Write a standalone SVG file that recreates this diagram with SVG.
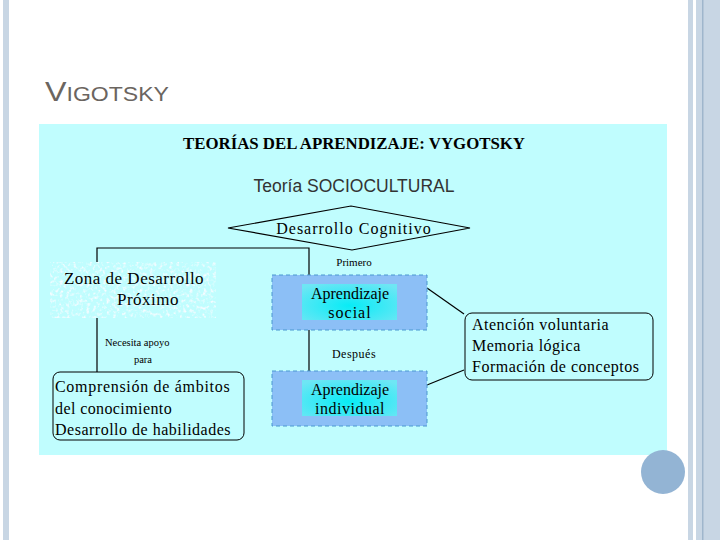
<svg xmlns="http://www.w3.org/2000/svg" width="720" height="540" viewBox="0 0 720 540">
<defs>
<style>
.serif{font-family:"Liberation Serif","Times New Roman",serif;fill:#000}
.ln{stroke:#000;stroke-width:1.2;fill:none}
.outer{fill:#8cbff6;stroke:#4a98d0;stroke-width:1;stroke-dasharray:4 3}
.inner{fill:url(#cy)}
.rbox{fill:none;stroke:#000;stroke-width:1}
</style>
<radialGradient id="cy" cx="0.5" cy="0.6" r="0.7">
<stop offset="0" stop-color="#08ecf6"/>
<stop offset="1" stop-color="#6ee6f4"/>
</radialGradient>
<filter id="noise" x="0" y="0" width="1" height="1">
<feTurbulence type="fractalNoise" baseFrequency="0.3" numOctaves="2" seed="3" result="n"/>
<feColorMatrix in="n" type="matrix" values="0 0 0 0 0.95  0 0 0 0 0.97  0 0 0 0 1  0 0 0 -3 1.55" result="w"/>
<feComposite in="w" in2="SourceGraphic" operator="in"/>
</filter>
</defs>
<rect width="720" height="540" fill="#fff"/>
<rect x="3" y="0" width="6" height="540" fill="#c8d6e4"/>
<rect x="688" y="0" width="5" height="540" fill="#c8d6e4"/>
<rect x="696" y="0" width="24" height="540" fill="#c8d6e4"/>
<rect x="702" y="0" width="1.5" height="540" fill="#9fb6cc"/>
<text x="45" y="101" font-family="Liberation Sans,Arial,sans-serif" fill="#6b6560" textLength="124" lengthAdjust="spacingAndGlyphs"><tspan font-size="28">V</tspan><tspan font-size="20">IGOTSKY</tspan></text>
<rect x="39" y="124" width="628" height="331" fill="#c0fdfe"/>
<circle cx="663" cy="472" r="22" fill="#93b4d4"/>
<g id="header">
<text x="354" y="149" text-anchor="middle" class="serif" font-weight="bold" font-size="16" textLength="342" lengthAdjust="spacingAndGlyphs">TEORÍAS DEL APRENDIZAJE: VYGOTSKY</text>
<text x="354" y="192" text-anchor="middle" font-family="Liberation Sans,Arial,sans-serif" font-size="17.5" fill="#333">Teoría SOCIOCULTURAL</text>
</g>
<g id="connectors">
<polyline class="ln" points="97,262 97,248 309,248 309,275"/>
<line class="ln" x1="309" y1="330" x2="309" y2="371"/>
<line class="ln" x1="97" y1="318" x2="97" y2="372"/>
<line class="ln" x1="427" y1="288" x2="464" y2="314"/>
<line class="ln" x1="427" y1="385" x2="464" y2="370"/>
</g>
<g id="desarrollo-cognitivo">
<polygon points="228,228 351,206 470,228 352,250" fill="#c0fdfe" stroke="#000" stroke-width="1.2"/>
<text x="354" y="234" text-anchor="middle" class="serif" font-size="16" letter-spacing="1">Desarrollo Cognitivo</text>
</g>
<g id="zona">
<rect x="50" y="262" width="166" height="56" fill="#e6f4f8" filter="url(#noise)"/>
<text x="134" y="284" text-anchor="middle" class="serif" font-size="17" letter-spacing="0.5">Zona de Desarrollo</text>
<text x="148" y="305" text-anchor="middle" class="serif" font-size="17" letter-spacing="0.5">Próximo</text>
</g>
<g id="labels">
<text x="105" y="346" class="serif" font-size="10.5">Necesita apoyo</text>
<text x="143" y="363" text-anchor="middle" class="serif" font-size="10.5">para</text>
<text x="354" y="266" text-anchor="middle" class="serif" font-size="11">Primero</text>
<text x="354" y="358" text-anchor="middle" class="serif" font-size="12" letter-spacing="0.5">Después</text>
</g>
<g id="aprendizaje-social">
<rect class="outer" x="272" y="275" width="155" height="55"/>
<rect class="inner" x="302" y="284" width="95" height="36"/>
<text x="350" y="299" text-anchor="middle" class="serif" font-size="16">Aprendizaje</text>
<text x="350" y="318" text-anchor="middle" class="serif" font-size="16" letter-spacing="1">social</text>
</g>
<g id="aprendizaje-individual">
<rect class="outer" x="272" y="371" width="155" height="55"/>
<rect class="inner" x="302" y="380" width="95" height="36"/>
<text x="350" y="395" text-anchor="middle" class="serif" font-size="16">Aprendizaje</text>
<text x="350" y="414" text-anchor="middle" class="serif" font-size="16" letter-spacing="0.5">individual</text>
</g>
<g id="funciones">
<rect class="rbox" x="465" y="313" width="188" height="67" rx="7"/>
<text x="472" y="330" class="serif" font-size="16" letter-spacing="0.5">Atención voluntaria</text>
<text x="472" y="351" class="serif" font-size="16" letter-spacing="0.5">Memoria lógica</text>
<text x="472" y="372" class="serif" font-size="16" letter-spacing="0.5">Formación de conceptos</text>
</g>
<g id="comprension">
<rect class="rbox" x="53" y="372" width="191" height="68" rx="7"/>
<text x="55" y="392" class="serif" font-size="16" letter-spacing="0.7">Comprensión de ámbitos</text>
<text x="55" y="414" class="serif" font-size="16" letter-spacing="0.4">del conocimiento</text>
<text x="55" y="435" class="serif" font-size="16" letter-spacing="0.5">Desarrollo de habilidades</text>
</g>
</svg>
